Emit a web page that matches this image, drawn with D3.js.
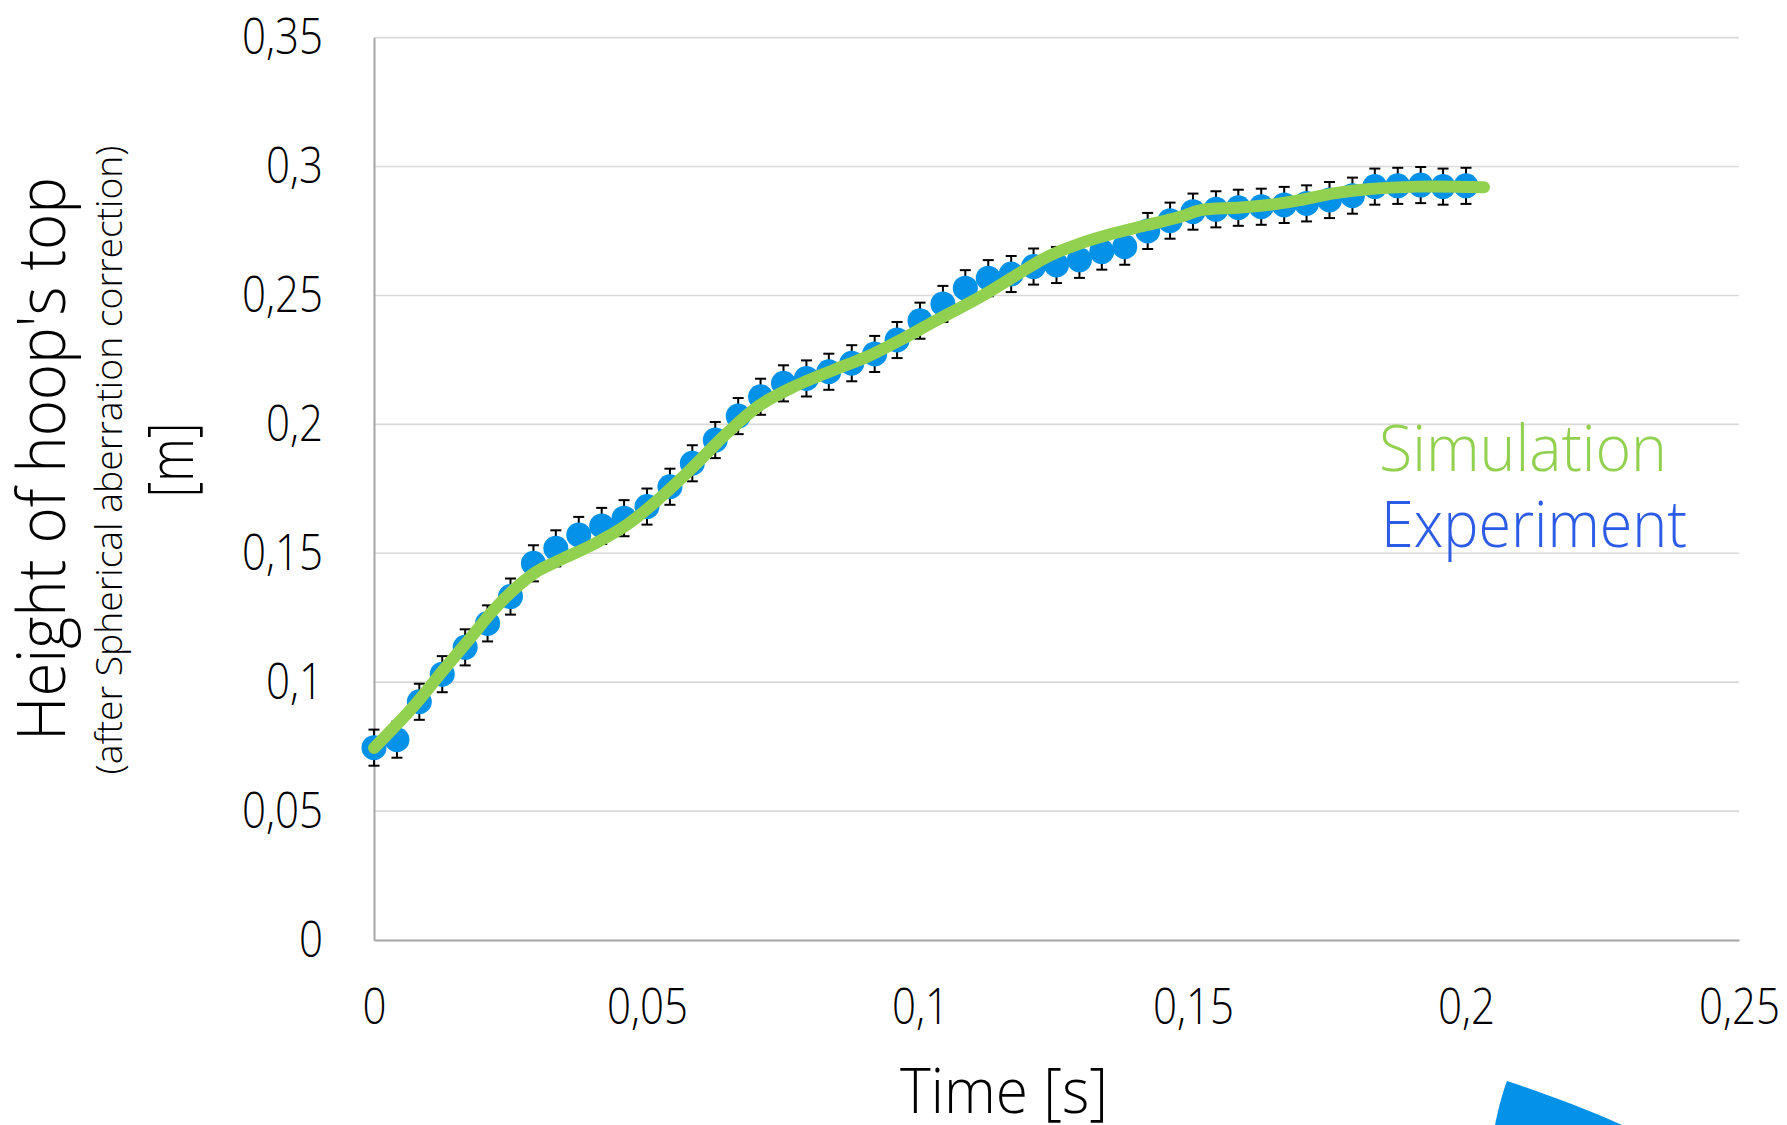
<!DOCTYPE html>
<html>
<head>
<meta charset="utf-8">
<script src="https://cdn.jsdelivr.net/npm/d3@7/dist/d3.min.js"></script>
<style>
  html, body { margin: 0; padding: 0; background: #fff; overflow: hidden; }
  text { font-family: "Open Sans", Lato, "DejaVu Sans", sans-serif; font-weight: 300; }
</style>
</head>
<body>
<svg id="chart" width="1787" height="1125"></svg>
<script>
// ---- data -------------------------------------------------------------
const timeTicks   = [0, 0.05, 0.1, 0.15, 0.2, 0.25];
const heightTicks = [0, 0.05, 0.1, 0.15, 0.2, 0.25, 0.3, 0.35];

// measured hoop-top height, one frame every 1/240 s
const expTime = [0, 0.0042, 0.0083, 0.0125, 0.0167, 0.0208, 0.025, 0.0292, 0.0333, 0.0375,
  0.0417, 0.0458, 0.05, 0.0542, 0.0583, 0.0625, 0.0667, 0.0708, 0.075, 0.0792,
  0.0833, 0.0875, 0.0917, 0.0958, 0.1, 0.1042, 0.1083, 0.1125, 0.1167, 0.1208,
  0.125, 0.1292, 0.1333, 0.1375, 0.1417, 0.1458, 0.15, 0.1542, 0.1583, 0.1625,
  0.1667, 0.1708, 0.175, 0.1792, 0.1833, 0.1875, 0.1917, 0.1958, 0.2];
const expHeight = [0.0746, 0.0777, 0.0924, 0.1031, 0.1135, 0.1228, 0.1332, 0.1461, 0.1519, 0.1571,
  0.1606, 0.1636, 0.1681, 0.1758, 0.1849, 0.1939, 0.2032, 0.2107, 0.2159, 0.2178,
  0.2204, 0.2237, 0.2273, 0.2327, 0.2402, 0.2467, 0.2528, 0.2567, 0.2583, 0.2612,
  0.2618, 0.2638, 0.2670, 0.2689, 0.2750, 0.2790, 0.2825, 0.2834, 0.2840, 0.2844,
  0.2851, 0.2857, 0.2870, 0.2887, 0.2922, 0.2925, 0.2928, 0.2922, 0.2925];
const expError = 0.007;

// simulated trajectory
const simTime = [0, 0.0072, 0.0127, 0.0176, 0.0219, 0.0262, 0.0298, 0.0341,
  0.0402, 0.0463, 0.0524, 0.0585, 0.0646, 0.0707, 0.0769,
  0.0842, 0.0903, 0.0964, 0.1025,
  0.1111, 0.1172, 0.1233, 0.1294, 0.1355, 0.1416, 0.1477, 0.1514, 0.1587,
  0.1654, 0.1697, 0.1758, 0.1819, 0.1911, 0.2033];
const simHeight = [0.0745, 0.0905, 0.1047, 0.117, 0.128, 0.137, 0.1429, 0.1474,
  0.1535, 0.161, 0.1715, 0.1836, 0.1965, 0.2075, 0.2146,
  0.2211, 0.2262, 0.2327, 0.2398,
  0.2495, 0.2573, 0.265, 0.2702, 0.2741, 0.2773, 0.2805, 0.2831, 0.2841,
  0.2855, 0.287, 0.2896, 0.2912, 0.2922, 0.292];

const legendLabels = ["Simulation", "Experiment"];

// ---- layout -----------------------------------------------------------
const W = 1787, H = 1125;
const margin = { top: 37.6, right: 48, bottom: 185, left: 374 };
const svg = d3.select("#chart");

const x = d3.scaleLinear().domain([0, 0.25]).range([margin.left, W - margin.right]);
const y = d3.scaleLinear().domain([0, 0.35]).range([H - margin.bottom, margin.top]);

const comma = v => String(v).replace(".", ",");
const gridColor = "#d9d9d9", axisColor = "#a6a6a6";
const simColor = "#92d050", expColor = "#0392e8", expText = "#2c5ce6";

// horizontal gridlines
svg.append("g")
  .selectAll("line").data(heightTicks.filter(d => d > 0)).join("line")
  .attr("x1", x(0)).attr("x2", x(0.25))
  .attr("y1", d => y(d)).attr("y2", d => y(d))
  .attr("stroke", gridColor).attr("stroke-width", 1.6);

// axes
const yAxis = svg.append("g").attr("transform", `translate(${x(0)},0)`)
  .call(d3.axisLeft(y).tickValues(heightTicks).tickFormat(comma).tickSize(0).tickPadding(51));
const xAxis = svg.append("g").attr("transform", `translate(0,${y(0)})`)
  .call(d3.axisBottom(x).tickValues(timeTicks).tickFormat(comma).tickSize(0).tickPadding(48));
[yAxis, xAxis].forEach(a => {
  a.select(".domain").attr("stroke", axisColor).attr("stroke-width", 2);
  a.selectAll("text").attr("font-size", 50).attr("fill", "#000")
    .style("font-family", '"Open Sans", Lato, sans-serif').style("font-weight", 300);
});
xAxis.selectAll("text").attr("dy", "0.71em");

// condense tick labels to the narrow face used throughout
const probe = svg.append("text").attr("font-size", 50).text("0,35");
const tickSquash = 81 / probe.node().getComputedTextLength();
probe.remove();
svg.selectAll(".tick text").each(function () {
  const len = this.getComputedTextLength();
  d3.select(this).attr("textLength", len * tickSquash).attr("lengthAdjust", "spacingAndGlyphs");
});

// error bars
const bars = svg.append("g").attr("stroke", "#000").attr("stroke-width", 2);
expTime.forEach((t, i) => {
  const cx = x(t), lo = y(expHeight[i] - expError), hi = y(expHeight[i] + expError);
  bars.append("line").attr("x1", cx).attr("x2", cx).attr("y1", lo).attr("y2", hi);
  bars.append("line").attr("x1", cx - 5.5).attr("x2", cx + 5.5).attr("y1", lo).attr("y2", lo);
  bars.append("line").attr("x1", cx - 5.5).attr("x2", cx + 5.5).attr("y1", hi).attr("y2", hi);
});

// experiment markers
svg.append("g").selectAll("circle").data(expTime).join("circle")
  .attr("cx", d => x(d)).attr("cy", (d, i) => y(expHeight[i])).attr("r", 12.5)
  .attr("fill", expColor);

// simulation curve
const line = d3.line().x(d => x(d[0])).y(d => y(d[1])).curve(d3.curveCatmullRom.alpha(0.5));
svg.append("path")
  .datum(simTime.map((t, i) => [t, simHeight[i]]))
  .attr("d", line)
  .attr("fill", "none").attr("stroke", simColor).attr("stroke-width", 12)
  .attr("stroke-linecap", "round").attr("stroke-linejoin", "round");

// text helper: fixed rendered length in the condensed style
function label(txt, size, len, attrs) {
  const t = svg.append("text").attr("font-size", size).text(txt);
  Object.entries(attrs).forEach(([k, v]) => t.attr(k, v));
  t.attr("textLength", len).attr("lengthAdjust", "spacingAndGlyphs");
  return t;
}

// legend
label(legendLabels[0], 64, 288, { x: 1379, y: 471, fill: simColor });
label(legendLabels[1], 64, 306, { x: 1381, y: 547, fill: expText });

// axis titles
label("Time [s]", 63, 208, { x: 1004, y: 1113, "text-anchor": "middle", fill: "#000" });
label("Height of hoop's top", 66, 564,
  { transform: "translate(65,459) rotate(-90)", "text-anchor": "middle", fill: "#000" });
label("(after Spherical aberration correction)", 37, 629,
  { transform: "translate(122,460) rotate(-90)", "text-anchor": "middle", fill: "#000" });
label("[m]", 62, 75,
  { transform: "translate(193,460) rotate(-90)", "text-anchor": "middle", fill: "#000" });

// pointer shape in the lower right corner
svg.append("path")
  .attr("d", "M1507,1081 C1540,1092 1585,1108 1622,1125 L1495,1125 C1498,1110 1502,1094 1507,1081 Z")
  .attr("fill", expColor);
</script>
</body>
</html>
